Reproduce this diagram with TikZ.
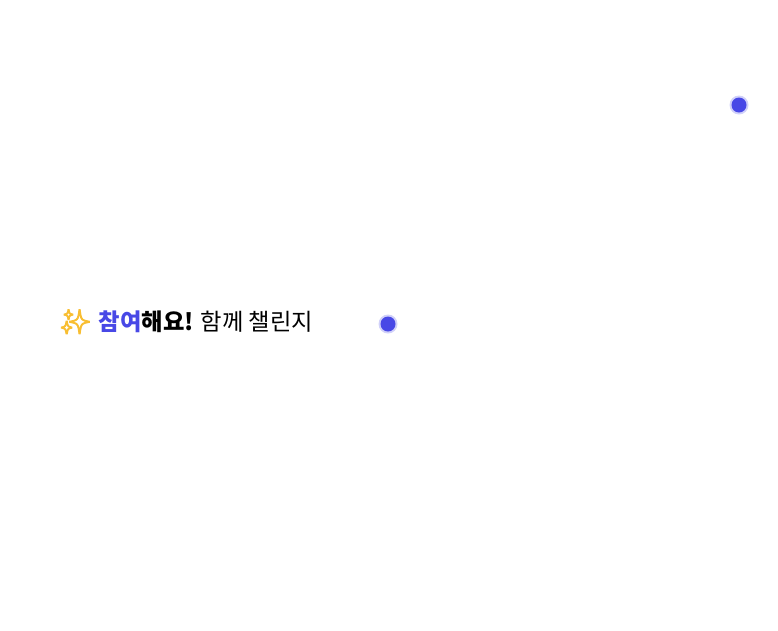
\documentclass[tikz,border=0pt]{standalone}
\usepackage{fontspec}
\newfontfamily\krfont{Noto Sans CJK KR}
\newfontfamily\emojifont[FakeBold=4]{Noto Emoji}
\usepackage{xcolor}
\definecolor{dotblue}{RGB}{72,72,230}
\definecolor{sparkle}{RGB}{248,190,50}

\begin{document}
\begin{tikzpicture}[x=1pt,y=-1pt]
\useasboundingbox (0,0) rectangle (778,630);
\foreach \px/\py/\nm in {739/105/dotA, 388/324/dotB} {
 \fill[dotblue!25] (\px,\py) circle (9.5);
 \fill[dotblue] (\px,\py) coordinate (\nm) circle (7.5);
}
\node[anchor=base west, inner sep=0, font=\krfont\fontsize{23.3}{27}\selectfont] (title) at (60,330) {{\emojifont\fontsize{24}{27}\selectfont\color{sparkle}✨}\hspace{3pt} {\bfseries\color{dotblue}참여}{\bfseries 해요!} 함께 챌린지};
\end{tikzpicture}
\end{document}
